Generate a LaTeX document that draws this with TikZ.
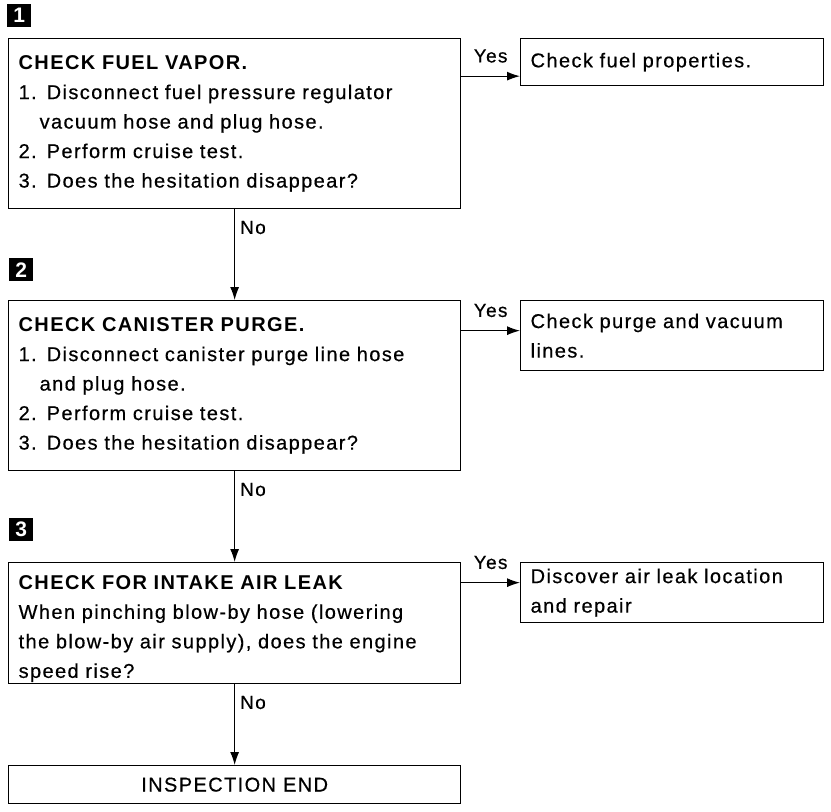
\documentclass[tikz,border=0pt]{standalone}
\usepackage{fontspec}
\setmainfont[LetterSpace=7, UprightFeatures={FakeBold=0.5}]{Liberation Sans}
\usetikzlibrary{positioning, arrows.meta}

\tikzset{
  stepbox/.style={draw, line width=1.3pt, anchor=north west, align=left,
    inner xsep=10pt, inner ysep=0pt, font=\fontsize{20}{29.5}\selectfont},
  endbox/.style={draw, line width=1.3pt, anchor=north west, align=center,
    inner sep=0pt, font=\fontsize{20}{22}\selectfont},
  badge/.style={fill=black, text=white, anchor=north west, minimum width=24pt,
    minimum height=23pt, inner sep=0pt, font=\fontsize{21}{21}\selectfont\bfseries},
  flow/.style={line width=1.1pt, -{Latex[length=13pt,width=9pt]}},
  lbl/.style={font=\fontsize{19}{19}\selectfont, inner sep=0pt}
}

\begin{document}
\begin{tikzpicture}[x=1pt, y=-1pt]
	\useasboundingbox (0,0) rectangle (831,812);
	% Step 1: fuel vapor
	\node[badge] (n1) at (7,4) {1};
	\node[stepbox, text width=432pt, minimum height=170pt] (b1) at (8,38)
		{\textbf{CHECK FUEL VAPOR.}\\
		1. Disconnect fuel pressure regulator\\
		\hspace*{1.05em}vacuum hose and plug hose.\\
		2. Perform cruise test.\\
		3. Does the hesitation disappear?};
	\node[stepbox, text width=283pt, minimum height=47pt] (r1) at (520,38)
		{Check fuel properties.};
	\draw[flow] ([yshift=-14pt]b1.east |- r1.west) -- node[lbl, above=13pt] {Yes} ([yshift=-14pt]r1.west);
	% Step 2: canister purge
	\node[badge] (n2) at (9,258) {2};
	\node[stepbox, text width=432pt, minimum height=170pt] (b2) at (8,300)
		{\textbf{CHECK CANISTER PURGE.}\\
		1. Disconnect canister purge line hose\\
		\hspace*{1.05em}and plug hose.\\
		2. Perform cruise test.\\
		3. Does the hesitation disappear?};
	\node[stepbox, text width=283pt, minimum height=70pt] (r2) at (520,300)
		{Check purge and vacuum\\ lines.};
	\draw[flow] (b1.south) -- node[lbl, pos=0, anchor=north west, xshift=5pt, yshift=-11pt] {No} (b2.north);
	\draw[flow] ([yshift=5pt]b2.east |- r2.west) -- node[lbl, above=13pt] {Yes} ([yshift=5pt]r2.west);
	% Step 3: intake air leak
	\node[badge] (n3) at (9,518) {3};
	\node[stepbox, text width=432pt, minimum height=121pt] (b3) at (8,562)
		{\rule{0pt}{25pt}\textbf{CHECK FOR INTAKE AIR LEAK}\\
		When pinching blow-by hose (lowering\\
		the blow-by air supply), does the engine\\
		speed rise?};
	\node[stepbox, text width=283pt, minimum height=60pt] (r3) at (520,562)
		{Discover air leak location\\ and repair};
	\draw[flow] (b2.south) -- node[lbl, pos=0, anchor=north west, xshift=5pt, yshift=-11pt] {No} (b3.north);
	\draw[flow] ([yshift=10pt]b3.east |- r3.west) -- node[lbl, above=13pt] {Yes} ([yshift=10pt]r3.west);
	% End
	\node[endbox, minimum width=452pt, minimum height=38pt] (e) at (8,765) {INSPECTION END};
	\draw[flow] (b3.south) -- node[lbl, pos=0, anchor=north west, xshift=5pt, yshift=-11pt] {No} (e.north);
\end{tikzpicture}
\end{document}
